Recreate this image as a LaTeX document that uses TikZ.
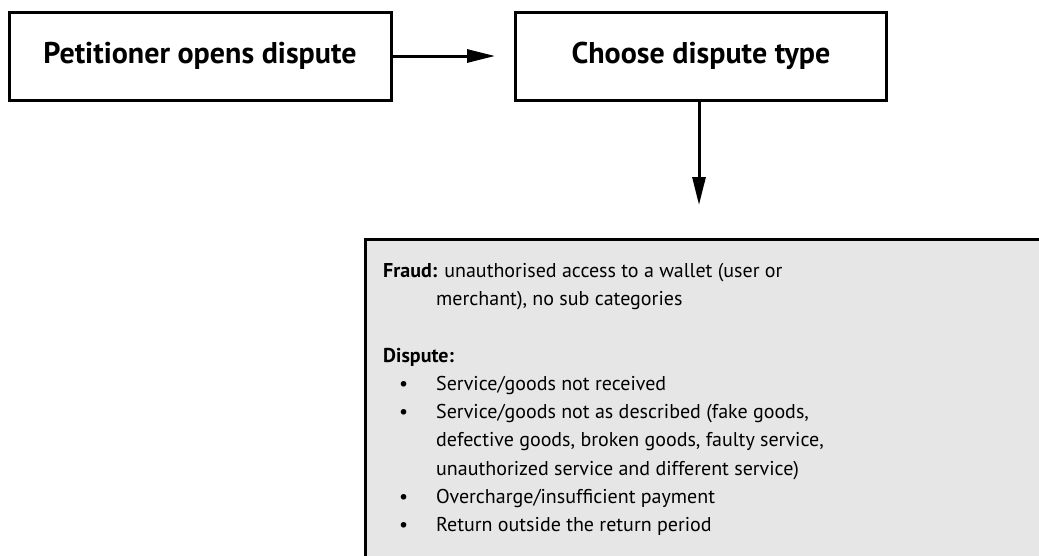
\documentclass[tikz,border=0pt]{standalone}
\usepackage{fontspec}
\setmainfont{PT Sans}
\usetikzlibrary{arrows.meta,positioning}
\definecolor{panelgrey}{HTML}{E6E6E6}
\newcommand{\bulletrow}{\makebox[53pt][l]{\hspace{16pt}\textbullet}}
\tikzset{
  stepbox/.style={draw,line width=3pt,minimum width=#1,minimum height=88pt,font=\fontsize{30}{34}\selectfont\bfseries},
  flow/.style={line width=3pt,-{Triangle[length=28pt,width=13pt]}}
}

\begin{document}
\begin{tikzpicture}[x=1pt,y=1pt]
\useasboundingbox (0,0) rectangle (1039,-555);
\clip (0,0) rectangle (1039,-555);
\node[stepbox=382pt] (open) at (200,-56) {Petitioner opens dispute};
\node[stepbox=371pt] (type) at (701,-56) {Choose dispute type};
\coordinate (openend) at (495,-56);
\coordinate (typeend) at (699,-205);
\draw[flow] (open) -- (openend);
\draw[flow] (type.south -| typeend) -- (typeend);
\node[draw,line width=3pt,fill=panelgrey,anchor=north west,minimum width=700pt,minimum height=340pt] (panel) at (363.5,-238) {};
\node[anchor=north west,align=left,inner sep=0pt,font=\fontsize{20}{28.2}\selectfont] (cats) at (383,-263) {%
\textbf{Fraud:} unauthorised access to a wallet (user or\\
\hspace*{53pt}merchant), no sub categories\\[28.5pt]
\textbf{Dispute:}\\
\bulletrow Service/goods not received\\
\bulletrow Service/goods not as described (fake goods,\\
\hspace*{53pt}defective goods, broken goods, faulty service,\\
\hspace*{53pt}unauthorized service and different service)\\
\bulletrow Overcharge/insufficient payment\\
\bulletrow Return outside the return period};
\end{tikzpicture}
\end{document}
